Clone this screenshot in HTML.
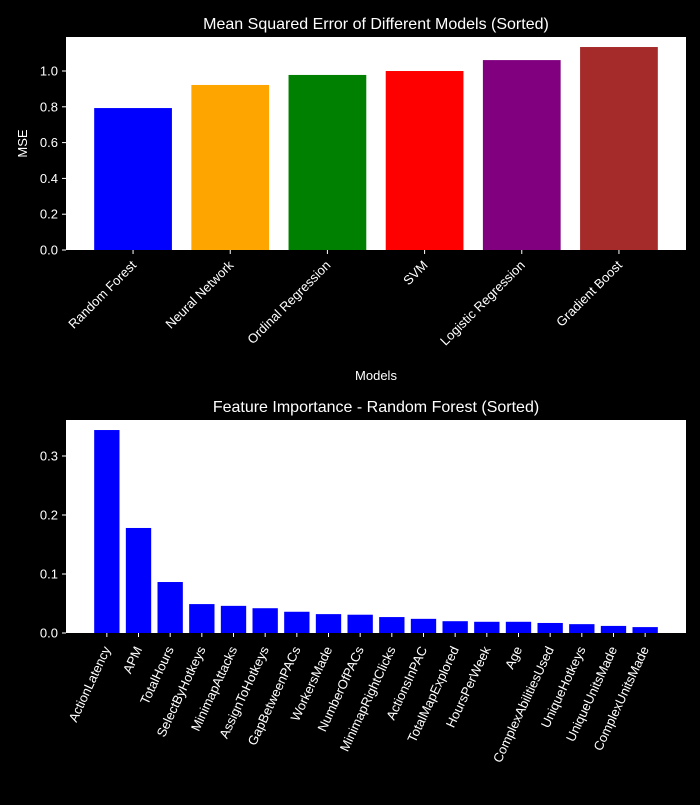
<!DOCTYPE html>
<html><head><meta charset="utf-8"><style>
body{margin:0;background:#000;}
svg text{font-family:"Liberation Sans","DejaVu Sans",sans-serif;fill:#fff;}
</style></head><body>
<svg id="c" width="700" height="800" xmlns="http://www.w3.org/2000/svg"></svg>
<script>
const models=["Random Forest","Neural Network","Ordinal Regression","SVM","Logistic Regression","Gradient Boost"];
const mse=[0.793,0.922,0.978,1.0,1.061,1.134];
const modelColors=["blue","orange","green","red","purple","brown"];
const mseTicks=[0,0.2,0.4,0.6,0.8,1.0];
const features=["ActionLatency","APM","TotalHours","SelectByHotkeys","MinimapAttacks","AssignToHotkeys","GapBetweenPACs","WorkersMade","NumberOfPACs","MinimapRightClicks","ActionsInPAC","TotalMapExplored","HoursPerWeek","Age","ComplexAbilitiesUsed","UniqueHotkeys","UniqueUnitsMade","ComplexUnitsMade"];
const importance=[0.344,0.178,0.0864,0.049,0.046,0.042,0.036,0.032,0.031,0.027,0.024,0.020,0.019,0.019,0.017,0.015,0.012,0.010];
const impTicks=[0,0.1,0.2,0.3];

const svg=document.getElementById('c');
const NS="http://www.w3.org/2000/svg";
function mk(tag,attrs,name,text){const e=document.createElementNS(NS,tag);for(const k in attrs)e.setAttribute(k,attrs[k]);


if(text!==undefined)e.textContent=text;svg.appendChild(e);return e;}

function chart(o){
 const {x0,x1,y0,y1,cats,vals,colors,ticks,ymax,title,rot,xlabel,ylabel,pre,tickFmt}=o;
 mk('rect',{x:x0,y:y0,width:x1-x0,height:y1-y0,fill:'#fff'},pre+'plot-area');
 const n=cats.length, span=(n-1+0.8), lo=-0.4-span*0.05, hi=n-1+0.4+span*0.05;
 const xs=i=>x0+(i-lo)/(hi-lo)*(x1-x0);
 const ys=v=>y1-v/ymax*(y1-y0);
 const bw=0.8*(x1-x0)/(hi-lo);
 vals.forEach((v,i)=>{
  mk('rect',{x:xs(i)-bw/2,y:ys(v),width:bw,height:y1-ys(v),fill:colors[i%colors.length]},pre+'bar-'+i);
  mk('line',{x1:xs(i),x2:xs(i),y1:y1,y2:y1+4,stroke:'#fff'},pre+'x-tick');
  const t=mk('text',{x:0,y:0,'font-size':13,'text-anchor':'end',transform:`translate(${xs(i)+4},${y1+16}) rotate(${-rot})`},pre+'x-label',cats[i]);
 });
 ticks.forEach(t=>{
  mk('line',{x1:x0-4,x2:x0,y1:ys(t),y2:ys(t),stroke:'#fff'},pre+'y-tick');
  mk('text',{x:x0-8,y:ys(t)+4.5,'font-size':13,'text-anchor':'end'},pre+'y-tick-label',tickFmt(t));
 });
 mk('text',{x:(x0+x1)/2,y:y0-8,'font-size':16,'text-anchor':'middle'},pre+'title',title);
 if(xlabel)mk('text',{x:(x0+x1)/2,y:o.xly,'font-size':13,'text-anchor':'middle'},pre+'x-axis-title',xlabel);
 if(ylabel)mk('text',{x:0,y:0,'font-size':13,'text-anchor':'middle',transform:`translate(27,${(y0+y1)/2}) rotate(-90)`},pre+'y-axis-title',ylabel);
}
chart({x0:66,x1:686,y0:37,y1:250,cats:models,vals:mse,colors:modelColors,ticks:mseTicks,ymax:1.19,title:"Mean Squared Error of Different Models (Sorted)",rot:45,xlabel:"Models",xly:380,ylabel:"MSE",pre:"mse-",tickFmt:t=>t.toFixed(1)});
chart({x0:66,x1:686,y0:420,y1:633,cats:features,vals:importance,colors:["blue"],ticks:impTicks,ymax:0.361,title:"Feature Importance - Random Forest (Sorted)",rot:65,pre:"fi-",tickFmt:t=>t.toFixed(1)});
</script>
</body></html>
